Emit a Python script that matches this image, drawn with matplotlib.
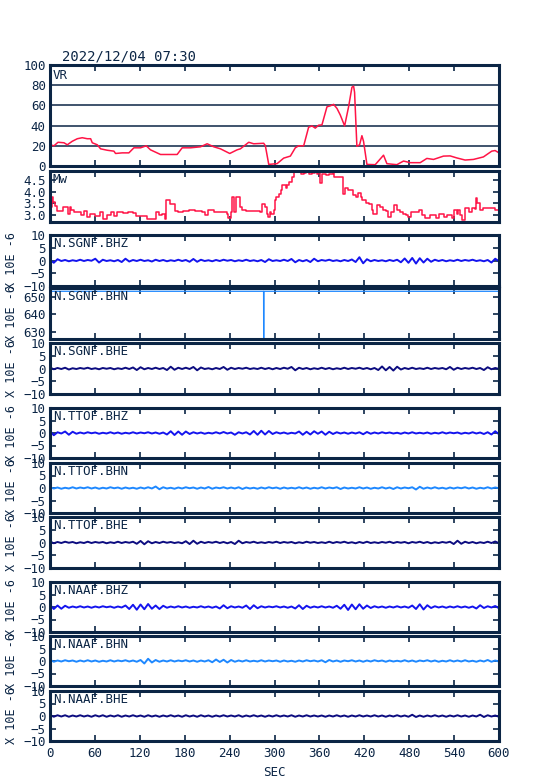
"""VR / Mw monitor with three-station broadband traces (2022/12/04 07:30)."""

import matplotlib

matplotlib.use("Agg")
import matplotlib.pyplot as plt

plt.rcParams["font.family"] = ["DejaVu Sans Mono", "DejaVu Sans"]

FRAME = "#0b2545"
RED = "#ff1446"
BLUE = "#1414ee"
LIGHT = "#1e88ff"
NAVY = "#0c0c80"

# variance reduction (sec, %)
vr_time = [0, 5.3, 10.7, 18.7, 23.1, 29.8, 36.5, 43.1, 49.8, 54.3, 56.5, 63.2, 67.6, 76.5, 85.4, 87.6,
           96.5, 105.4, 112.1, 121, 128.6, 134.3, 141, 147.7, 156.6, 169.9, 176.6, 187.7, 201.1, 210,
           218.9, 227.8, 240.2, 250, 254.4, 265.6, 272.2, 285.6, 287.8, 292.3, 303.4, 312.3, 321.2,
           327.8, 332.3, 339, 345.6, 350.1, 354.5, 359, 363.4, 370.1, 374.6, 379, 383.5, 387.9, 393.7,
           399, 403.5, 405.7, 407, 408.8, 410.1, 413.7, 416.8, 419, 423.5, 434.6, 445.7, 450.2, 463.5,
           472.4, 481.3, 494.7, 503.6, 512.5, 525.8, 534.7, 543.6, 554.7, 565.8, 579.2, 590.3, 594.8, 600]
vr_value = [21, 20, 23.5, 23, 21, 24.5, 27, 28, 27, 27, 23, 21, 17, 15.6, 14.7, 12.4,
            13, 13, 18, 18, 20, 16, 13.7, 11.4, 11.4, 11.4, 18, 18, 19, 22,
            19, 17, 12.4, 16, 17, 23.5, 22, 22.5, 20, 1.6, 2.3, 7.8, 9.8,
            18, 20, 20, 38.4, 39.7, 37.5, 40.4, 40.7, 58.6, 59.6, 61, 57, 50.5, 39.7,
            58.6, 78, 79, 73, 42, 19.5, 21, 30, 24.4, 1.6, 1.3, 10.7, 2.3, 1.3,
            4.9, 3.3, 3.3, 7.5, 6.5, 9.8, 10, 8, 5.9, 6.5, 9, 14.7, 15.3, 13]

# moment magnitude (sec, Mw)
mw_time = [0, 2.5, 4.2, 6.3, 8.8, 13.8, 18, 22.2, 24.3, 26.4, 28.5, 32.7, 36.9, 41.1, 45.3, 49.5,
           53.7, 60, 66.3, 70.5, 76.8, 81, 85.2, 89.4, 97.8, 104.1, 110.4, 114.6, 127.1, 129.2, 137.6,
           141.8, 146, 150.2, 153.2, 154.4, 158.6, 160.7, 164.9, 167, 171.2, 177.5, 185.9, 194.3, 202.7,
           206.9, 211.1, 219.5, 227.8, 236.2, 238.3, 241.3, 243.8, 245.9, 248.8, 252.2, 254.3, 257.2,
           261.4, 268.5, 281.1, 283.2, 287.4, 289.5, 291.6, 293.7, 295.8, 298.7, 300.8, 302.1, 306.3,
           308.4, 310.5, 314.7, 316.8, 318.9, 323.1, 326.4, 331.5, 335.7, 339.9, 342, 346.2, 350.4,
           354.5, 356.6, 358.7, 360.8, 362.9, 369.2, 373.4, 377.6, 379.7, 389.4, 391.1, 393.6, 398.6,
           403.6, 404.9, 409.1, 411.2, 415.4, 417.5, 421.7, 425.9, 430.1, 432.2, 436.4, 440.6, 444.8,
           449, 452.3, 455.3, 459.5, 463.6, 467.8, 472, 476.2, 478.3, 482.5, 490.9, 493, 497.2, 501.4,
           507.7, 516.1, 520.3, 526.6, 530.8, 537.1, 539.2, 543.4, 545.5, 547.6, 550.5, 553.9, 558.1,
           560.2, 564.3, 567.3, 569, 570.6, 575, 578, 592, 595, 600]
mw_value = [3.34, 3.79, 3.56, 3.37, 3.16, 3.16, 3.34, 3.34, 3.04, 3.34, 3.19, 3.12, 3.12, 3.0, 3.15, 2.9,
            3.04, 2.93, 3.12, 2.82, 2.97, 3.12, 2.93, 3.12, 3.07, 3.12, 3.07, 2.93, 2.93, 2.82, 2.82,
            3.12, 2.97, 3.04, 2.82, 3.64, 3.64, 3.45, 3.45, 3.16, 3.12, 3.16, 3.19, 3.16, 3.12,
            3.0, 3.19, 3.12, 3.12, 3.04, 2.85, 3.12, 3.79, 3.12, 3.79, 3.79, 3.34, 3.19,
            3.15, 3.15, 3.12, 3.45, 3.34, 3.04, 2.9, 3.12, 3.04, 3.19, 3.64, 3.79, 3.89,
            4.08, 4.31, 4.16, 4.31, 4.42, 4.63, 4.87, 4.87, 4.78, 4.82, 4.93, 4.78, 4.82,
            4.9, 4.78, 4.87, 4.38, 4.75, 4.72, 4.78, 4.87, 4.63, 4.63, 3.89, 4.16, 4.08,
            4.08, 3.86, 3.79, 3.93, 3.79, 3.64, 3.49, 3.45, 3.19, 3.04, 3.42, 3.34, 3.19,
            3.15, 2.9, 3.12, 3.42, 3.19, 3.12, 3.04, 2.97, 2.9, 3.12, 3.12, 3.19, 2.97, 2.85,
            2.97, 2.85, 3.04, 2.9, 2.97, 2.85, 3.19, 3.04, 3.19, 2.97, 2.75, 3.3, 3.3,
            3.12, 3.27, 3.24, 3.71, 3.49, 3.2, 3.3, 3.3, 3.2, 3.18]

# traces in 10E-6, one row = 60 s
sgnf_bhz = [0.3, -0.9, 0.5, -0.2, 0.2, -0.3, 0.1, -0.2, 0.3, -0.2, 0.2, -0.1,
            0.7, -0.8, 0.3, -0.2, 0.1, -0.3, 0.2, -0.6, 0.7, -0.4, 0.2, -0.2,
            0.3, -0.2, 0.1, -0.4, 0.3, -0.2, 0.2, -0.3, 0.1, -0.2, 0.3, -0.2,
            0.2, -0.5, 0.6, -0.5, 0.3, -0.2, 0.1, -0.3, 0.2, -0.2, 0.3, -0.1,
            0.2, -0.3, 0.1, -0.2, 0.3, -0.2, 0.1, -0.3, 0.2, -0.6, 0.5, -0.2,
            0.1, -0.2, 0.3, -0.2, 0.6, -0.7, 0.2, -0.3, 0.2, -0.6, 0.7, -0.3,
            0.2, -0.1, 0.3, -0.2, 0.1, -0.3, 0.2, -0.2, 0.4, -0.6, 1.3, -1.1,
            0.5, -0.3, 0.2, -0.2, 0.1, -0.3, 0.2, -0.2, 0.3, -0.7, 0.8, -0.9,
            1.0, -1.2, 0.9, -0.8, 0.7, -0.5, 0.3, -0.2, 0.2, -0.3, 0.1, -0.2,
            0.3, -0.2, 0.2, -0.1, 0.3, -0.2, 0.1, -0.3, 0.2, -0.8, 0.7, -0.3]
# SGNF BHN is a flat offset with a single drop-out
sgnf_bhn_time = [0, 285.4, 285.6, 285.8, 600]
sgnf_bhn = [653.3, 653.3, 600.0, 653.3, 653.3]
sgnf_bhe = [0.4, -0.3, 0.2, -0.2, 0.3, -0.4, 0.1, -0.2, 0.2, -0.1, 0.3, -0.2,
            0.1, -0.3, 0.2, -0.1, 0.2, -0.3, 0.1, -0.2, 0.3, -0.2, 0.4, -0.6,
            0.5, -0.3, 0.2, -0.2, 0.3, -0.2, 0.2, -0.6, 0.7, -0.5, 0.3, -0.2,
            0.3, -0.2, 0.6, -0.7, 0.4, -0.2, 0.1, -0.3, 0.2, -0.2, 0.6, -0.5,
            0.3, -0.2, 0.2, -0.1, 0.3, -0.2, 0.1, -0.2, 0.3, -0.2, 0.2, -0.3,
            0.2, -0.2, 0.3, -0.1, 0.6, -0.7, 0.3, -0.2, 0.2, -0.3, 0.1, -0.2,
            0.3, -0.2, 0.2, -0.3, 0.1, -0.2, 0.3, -0.2, 0.2, -0.1, 0.3, -0.2,
            0.2, -0.3, 0.2, -0.6, 0.8, -0.7, 0.6, -0.8, 0.7, -0.4, 0.2, -0.2,
            0.3, -0.2, 0.1, -0.2, 0.3, -0.2, 0.2, -0.1, 0.2, -0.3, 0.6, -0.5,
            0.3, -0.2, 0.2, -0.1, 0.3, -0.2, 0.2, -0.6, 0.5, -0.3, 0.2, -0.2]
ttof_bhz = [0.8, -0.9, 0.3, -0.2, 0.6, -0.7, 0.5, -0.3, 0.2, -0.2, 0.3, -0.1,
            0.2, -0.3, 0.1, -0.2, 0.3, -0.2, 0.2, -0.3, 0.1, -0.2, 0.3, -0.2,
            0.2, -0.1, 0.3, -0.2, 0.2, -0.3, 0.2, -0.6, 0.7, -0.8, 0.6, -0.7,
            0.6, -0.4, 0.3, -0.2, 0.2, -0.3, 0.1, -0.2, 0.3, -0.2, 0.4, -0.2,
            0.2, -0.7, 0.3, -0.2, 0.3, -0.6, 0.8, -0.7, 0.9, -0.6, 0.8, -0.4,
            0.3, -0.2, 0.2, -0.3, 0.1, -0.2, 0.6, -0.7, 0.5, -0.6, 0.7, -0.3,
            0.6, -0.7, 0.5, -0.4, 0.3, -0.2, 0.2, -0.3, 0.2, -0.2, 0.3, -0.5,
            0.4, -0.3, 0.2, -0.2, 0.3, -0.1, 0.2, -0.2, 0.1, -0.3, 0.2, -0.2,
            0.3, -0.2, 0.1, -0.2, 0.2, -0.3, 0.1, -0.2, 0.3, -0.2, 0.2, -0.1,
            0.2, -0.3, 0.1, -0.2, 0.3, -0.2, 0.2, -0.4, 0.3, -0.6, 0.7, -0.5]
ttof_bhn = [0.3, -0.2, 0.2, -0.3, 0.1, -0.2, 0.3, -0.2, 0.2, -0.1, 0.3, -0.2,
            0.2, -0.3, 0.1, -0.2, 0.3, -0.1, 0.2, -0.3, 0.2, -0.2, 0.1, -0.3,
            0.2, -0.2, 0.3, -0.2, 0.6, -0.5, 0.3, -0.2, 0.1, -0.3, 0.2, -0.2,
            0.3, -0.1, 0.2, -0.3, 0.2, -0.2, 0.4, -0.3, 0.2, -0.1, 0.3, -0.2,
            0.2, -0.2, 0.3, -0.4, 0.2, -0.2, 0.1, -0.3, 0.2, -0.2, 0.3, -0.1,
            0.2, -0.3, 0.2, -0.2, 0.1, -0.2, 0.3, -0.2, 0.2, -0.3, 0.1, -0.2,
            0.3, -0.2, 0.2, -0.1, 0.3, -0.4, 0.2, -0.2, 0.1, -0.2, 0.3, -0.2,
            0.2, -0.3, 0.1, -0.2, 0.3, -0.2, 0.2, -0.4, 0.3, -0.2, 0.2, -0.1,
            0.3, -0.6, 0.5, -0.3, 0.2, -0.2, 0.3, -0.2, 0.1, -0.3, 0.2, -0.2,
            0.2, -0.1, 0.3, -0.2, 0.2, -0.3, 0.1, -0.2, 0.3, -0.2, 0.2, -0.1]
ttof_bhe = [0.4, -0.3, 0.2, -0.2, 0.3, -0.1, 0.2, -0.3, 0.1, -0.2, 0.3, -0.2,
            0.2, -0.1, 0.2, -0.3, 0.1, -0.2, 0.3, -0.2, 0.2, -0.1, 0.3, -0.5,
            0.6, -0.7, 0.5, -0.3, 0.2, -0.2, 0.3, -0.1, 0.2, -0.2, 0.1, -0.3,
            0.5, -0.6, 0.7, -0.5, 0.3, -0.2, 0.2, -0.1, 0.3, -0.2, 0.2, -0.3,
            0.2, -0.6, 0.7, -0.3, 0.2, -0.1, 0.3, -0.2, 0.1, -0.2, 0.2, -0.1,
            0.3, -0.2, 0.2, -0.1, 0.2, -0.3, 0.1, -0.2, 0.3, -0.1, 0.2, -0.2,
            0.1, -0.2, 0.3, -0.2, 0.2, -0.1, 0.3, -0.2, 0.1, -0.3, 0.2, -0.2,
            0.3, -0.2, 0.1, -0.2, 0.2, -0.1, 0.3, -0.2, 0.2, -0.1, 0.2, -0.3,
            0.2, -0.1, 0.3, -0.2, 0.2, -0.3, 0.1, -0.2, 0.2, -0.1, 0.3, -0.6,
            0.7, -0.5, 0.3, -0.2, 0.2, -0.3, 0.1, -0.2, 0.3, -0.2, 0.4, -0.3]
naaf_bhz = [0.9, -0.8, 0.6, -0.7, 0.5, -0.3, 0.2, -0.2, 0.3, -0.2, 0.2, -0.3,
            0.2, -0.2, 0.3, -0.1, 0.2, -0.3, 0.2, -0.2, 0.6, -0.8, 0.9, -1.1,
            1.0, -0.9, 1.2, -0.7, 0.6, -0.8, 0.5, -0.3, 0.2, -0.2, 0.3, -0.2,
            0.2, -0.3, 0.1, -0.2, 0.3, -0.2, 0.2, -0.3, 0.2, -0.6, 0.7, -0.5,
            0.3, -0.2, 0.2, -0.3, 0.6, -0.8, 0.7, -0.5, 0.3, -0.2, 0.2, -0.1,
            0.3, -0.2, 0.2, -0.3, 0.2, -0.6, 0.7, -0.8, 0.5, -0.3, 0.2, -0.2,
            0.3, -0.2, 0.2, -0.3, 0.5, -0.7, 0.9, -1.2, 1.0, -0.9, 1.1, -0.7,
            0.6, -0.4, 0.3, -0.2, 0.2, -0.3, 0.2, -0.2, 0.3, -0.2, 0.2, -0.3,
            0.6, -0.8, 1.1, -1.0, 0.7, -0.4, 0.3, -0.2, 0.2, -0.3, 0.2, -0.2,
            0.3, -0.2, 0.2, -0.3, 0.2, -0.6, 0.7, -0.4, 0.3, -0.2, 0.4, -0.5]
naaf_bhn = [0.5, -0.3, 0.2, -0.2, 0.3, -0.1, 0.2, -0.3, 0.2, -0.2, 0.3, -0.2,
            0.2, -0.3, 0.1, -0.2, 0.3, -0.2, 0.2, -0.1, 0.3, -0.2, 0.2, -0.3,
            0.4, -1.0, 0.9, -0.6, 0.4, -0.3, 0.2, -0.2, 0.3, -0.2, 0.2, -0.1,
            0.3, -0.2, 0.2, -0.3, 0.2, -0.2, 0.3, -0.5, 0.6, -0.4, 0.5, -0.6,
            0.4, -0.3, 0.2, -0.2, 0.3, -0.2, 0.1, -0.2, 0.3, -0.2, 0.2, -0.1,
            0.2, -0.3, 0.2, -0.2, 0.1, -0.3, 0.2, -0.2, 0.3, -0.1, 0.2, -0.2,
            0.3, -0.5, 0.4, -0.2, 0.2, -0.3, 0.2, -0.1, 0.3, -0.2, 0.2, -0.3,
            0.2, -0.2, 0.3, -0.1, 0.2, -0.3, 0.2, -0.2, 0.1, -0.2, 0.3, -0.2,
            0.2, -0.3, 0.2, -0.1, 0.3, -0.2, 0.2, -0.3, 0.1, -0.2, 0.3, -0.2,
            0.2, -0.2, 0.3, -0.2, 0.1, -0.3, 0.2, -0.2, 0.4, -0.3, 0.2, -0.2]
naaf_bhe = [0.4, -0.3, 0.3, -0.2, 0.3, -0.3, 0.2, -0.2, 0.3, -0.2, 0.2, -0.3,
            0.3, -0.2, 0.3, -0.3, 0.2, -0.2, 0.3, -0.3, 0.2, -0.2, 0.3, -0.2,
            0.2, -0.3, 0.3, -0.2, 0.2, -0.3, 0.2, -0.2, 0.3, -0.2, 0.2, -0.3,
            0.3, -0.2, 0.2, -0.3, 0.3, -0.2, 0.2, -0.3, 0.2, -0.2, 0.3, -0.2,
            0.2, -0.2, 0.3, -0.3, 0.2, -0.2, 0.3, -0.2, 0.2, -0.3, 0.2, -0.2,
            0.3, -0.2, 0.2, -0.2, 0.3, -0.3, 0.2, -0.2, 0.3, -0.2, 0.2, -0.2,
            0.2, -0.3, 0.2, -0.2, 0.3, -0.2, 0.2, -0.3, 0.2, -0.2, 0.3, -0.2,
            0.2, -0.2, 0.3, -0.2, 0.2, -0.3, 0.2, -0.2, 0.3, -0.2, 0.2, -0.3,
            0.5, -0.4, 0.2, -0.3, 0.2, -0.2, 0.3, -0.2, 0.2, -0.3, 0.2, -0.2,
            0.3, -0.2, 0.2, -0.3, 0.2, -0.2, 0.5, -0.4, 0.3, -0.2, 0.2, -0.3]

x_ticks = [0, 60, 120, 180, 240, 300, 360, 420, 480, 540, 600]
seis_ticks = [-10, -5, 0, 5, 10]

# panel rows in pixels (top, bottom) on a 554 x 781 canvas
W, H = 554, 781
LEFT, RIGHT = 50, 499
rows = {
    "vr": (65, 166), "mw": (171, 222),
    "sgnf_bhz": (235, 286), "sgnf_bhn": (288, 339), "sgnf_bhe": (343, 394),
    "ttof_bhz": (408, 458), "ttof_bhn": (463, 513), "ttof_bhe": (517, 568),
    "naaf_bhz": (582, 632), "naaf_bhn": (636, 686), "naaf_bhe": (691, 741),
}

fig = plt.figure(figsize=(W / 100, H / 100), dpi=100)


def make_axes(key):
    top, bot = rows[key]
    ax = fig.add_axes([LEFT / W, 1 - bot / H, (RIGHT - LEFT) / W, (bot - top) / H])
    for sp in ax.spines.values():
        sp.set_color(FRAME)
        sp.set_linewidth(2.2)
    ax.set_xlim(0, 600)
    ax.set_xticks(x_ticks)
    ax.tick_params(direction="in", length=4, width=1.2, color=FRAME, labelcolor=FRAME,
                   labelsize=9, top=True, right=True, pad=3)
    ax.tick_params(axis="x", labelbottom=False)
    return ax


def label(ax, name):
    ax.text(0.006, 0.96, name, transform=ax.transAxes, ha="left", va="top",
            fontsize=9, color=FRAME)


ax = make_axes("vr")
ax.plot(vr_time, vr_value, color=RED, lw=1.1)
ax.set_ylim(0, 100)
ax.set_yticks([0, 20, 40, 60, 80, 100])
for g in [20, 40, 60, 80]:
    ax.axhline(g, color=FRAME, lw=1.1, zorder=0)
ax.tick_params(axis="y", length=0)
label(ax, "VR")

ax = make_axes("mw")
ax.plot(mw_time, mw_value, color=RED, lw=1.1, drawstyle="steps-post")
ax.set_ylim(2.68, 4.9)
ax.set_yticks([3.0, 3.5, 4.0, 4.5])
ax.set_yticklabels(["3.0", "3.5", "4.0", "4.5"])
label(ax, "Mw")

traces = [
    ("sgnf_bhz", "N.SGNF.BHZ", sgnf_bhz, BLUE),
    ("sgnf_bhn", "N.SGNF.BHN", sgnf_bhn, LIGHT),
    ("sgnf_bhe", "N.SGNF.BHE", sgnf_bhe, NAVY),
    ("ttof_bhz", "N.TTOF.BHZ", ttof_bhz, BLUE),
    ("ttof_bhn", "N.TTOF.BHN", ttof_bhn, LIGHT),
    ("ttof_bhe", "N.TTOF.BHE", ttof_bhe, NAVY),
    ("naaf_bhz", "N.NAAF.BHZ", naaf_bhz, BLUE),
    ("naaf_bhn", "N.NAAF.BHN", naaf_bhn, LIGHT),
    ("naaf_bhe", "N.NAAF.BHE", naaf_bhe, NAVY),
]

for key, name, values, color in traces:
    ax = make_axes(key)
    if key == "sgnf_bhn":
        ax.plot(sgnf_bhn_time, values, color=color, lw=0.9)
        ax.set_ylim(625.8, 655.2)
        ax.set_yticks([630, 640, 650])
    else:
        dt = 600 / (len(values) - 1)
        t = [i * dt for i in range(len(values))]
        ax.plot(t, values, color=color, lw=1.4)
        ax.set_ylim(-10, 10)
        ax.set_yticks(seis_ticks)
    label(ax, name)
    top, bot = rows[key]
    fig.text(12 / W, 1 - (top + bot) / 2 / H, "X 10E -6", rotation=90,
             ha="center", va="center", fontsize=8.5, color=FRAME)

# bottom panel carries the time axis
ax.tick_params(axis="x", labelbottom=True, pad=4)
fig.text((LEFT + RIGHT) / 2 / W, 1 - 772 / H, "SEC", ha="center", va="center",
         fontsize=9, color=FRAME)
fig.text(62 / W, 1 - 63 / H, "2022/12/04 07:30", ha="left", va="bottom",
         fontsize=10, color=FRAME)

fig.savefig("out.png", dpi=100)
